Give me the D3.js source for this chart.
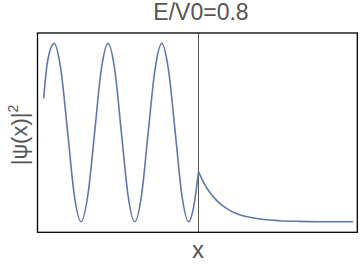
<!DOCTYPE html>
<html>
<head>
<meta charset="utf-8">
<script src="https://cdn.jsdelivr.net/npm/d3@7"></script>
<style>
	body { margin: 0; background: #fff; }
	text { font-family: "Liberation Sans", Arial, sans-serif; fill: #555; }
</style>
</head>
<body>
<div id="chart"></div>
<script>

// oscillating part, x < 0
var waveX = [-10, -9.75, -9.32, -8.89, -8.45, -8.02, -7.59, -7.15, -6.71, -6.28, -5.84, -5.41, -4.98, -4.55, -4.12, -3.68, -3.25, -2.81, -2.37, -1.94, -1.50, -1.07, -0.64, -0.32, 0];
var waveY = [2.77, 3.6, 4, 3.41, 2, 0.59, 0, 0.59, 2, 3.41, 4, 3.41, 2, 0.59, 0, 0.59, 2, 3.41, 4, 3.41, 2, 0.59, 0, 0.32, 1.12];

// decaying part, x > 0
var decayX = [0, 0.4, 0.75, 1.2, 1.6, 2.1, 2.7, 3.4, 4.2, 5.2, 6.5, 8, 10];
var decayY = [1.12, 0.84, 0.65, 0.47, 0.35, 0.24, 0.155, 0.095, 0.052, 0.025, 0.01, 0.003, 0.001];

var title = 'E/V0=0.8';
var xLabel = 'x';
var yLabel = '|\u03C8(x)|';

var w = 360;
var h = 266;
var m = {left: 37.5, right: 357.3, top: 33, bottom: 232.3};

var svg = d3.select('#chart')
	.append('svg')
	.attr('width', w)
	.attr('height', h);

var x = d3.scaleLinear().domain([-10.4, 10.26]).range([m.left, m.right]);
var y = d3.scaleLinear().domain([-0.235, 4.233]).range([m.bottom, m.top]);

var line = d3.line()
	.x(function(d){ return x(d[0]); })
	.y(function(d){ return y(d[1]); })
	.curve(d3.curveMonotoneX);

// vertical axis at x = 0
svg.append('line')
	.attr('x1', Math.round(x(0)) + 0.5)
	.attr('x2', Math.round(x(0)) + 0.5)
	.attr('y1', m.top)
	.attr('y2', m.bottom)
	.attr('stroke', '#555')
	.attr('stroke-width', 1);

svg.append('path')
	.datum(d3.zip(waveX, waveY))
	.attr('d', line)
	.attr('fill', 'none')
	.attr('stroke', '#5e78ad')
	.attr('stroke-width', 1.6);

svg.append('path')
	.datum(d3.zip(decayX, decayY))
	.attr('d', line)
	.attr('fill', 'none')
	.attr('stroke', '#5e78ad')
	.attr('stroke-width', 1.6);

// frame
svg.append('rect')
	.attr('x', m.left)
	.attr('y', m.top)
	.attr('width', m.right - m.left)
	.attr('height', m.bottom - m.top)
	.attr('fill', 'none')
	.attr('stroke', '#000')
	.attr('stroke-width', 1.3);

svg.append('text')
	.attr('x', 201)
	.attr('y', 20)
	.attr('text-anchor', 'middle')
	.style('font-size', '23px')
	.text(title);

svg.append('text')
	.attr('x', 198)
	.attr('y', 258)
	.attr('text-anchor', 'middle')
	.style('font-size', '24px')
	.text(xLabel);

var yl = svg.append('text')
	.attr('transform', 'translate(27,135) rotate(-90)')
	.attr('text-anchor', 'middle')
	.style('font-size', '22px');
yl.append('tspan').text(yLabel);
yl.append('tspan').attr('dy', -9).style('font-size', '14px').text('2');

</script>
</body>
</html>
